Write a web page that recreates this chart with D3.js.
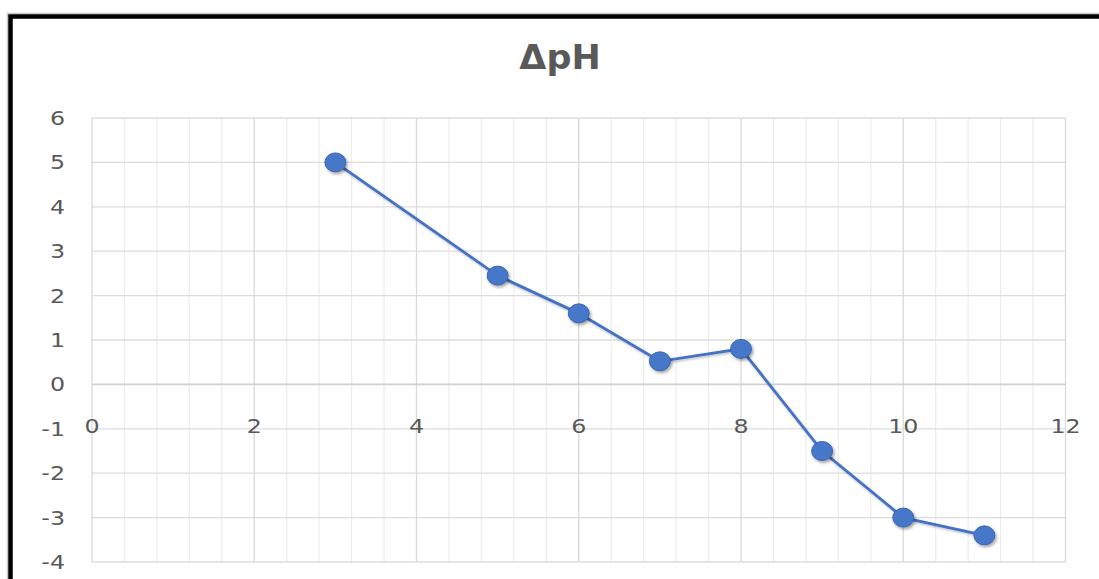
<!DOCTYPE html>
<html>
<head>
<meta charset="utf-8">
<script src="https://cdn.jsdelivr.net/npm/d3@7"></script>
<style>
  html, body { margin: 0; padding: 0; background: #ffffff; }
  svg { display: block; }
</style>
</head>
<body>
<script>
// Series: ΔpH against x
const xValues = [3, 5, 6, 7, 8, 9, 10, 11];
const deltaPH = [5, 2.45, 1.6, 0.52, 0.8, -1.5, -3, -3.4];
const xTicks = [0, 2, 4, 6, 8, 10, 12];
const yTicks = [-4, -3, -2, -1, 0, 1, 2, 3, 4, 5, 6];
const chartTitle = "ΔpH";

const W = 1099, H = 579;
const plot = { left: 92, right: 1065.5, top: 118, bottom: 562 };

const svg = d3.select("body").append("svg")
  .attr("width", W).attr("height", H);

const defs = svg.append("defs");
const shadow = defs.append("filter").attr("id", "markerShadow")
  .attr("x", "-50%").attr("y", "-50%").attr("width", "200%").attr("height", "200%");
shadow.append("feDropShadow")
  .attr("dx", 1.5).attr("dy", 2).attr("stdDeviation", 1.8)
  .attr("flood-color", "#000").attr("flood-opacity", 0.35);
const lineShadow = defs.append("filter").attr("id", "lineShadow")
  .attr("x", "-10%").attr("y", "-10%").attr("width", "120%").attr("height", "120%");
lineShadow.append("feDropShadow")
  .attr("dx", 1).attr("dy", 1.5).attr("stdDeviation", 1.2)
  .attr("flood-color", "#000").attr("flood-opacity", 0.25);

svg.append("rect").attr("width", W).attr("height", H).attr("fill", "#fff");

// Outer frame (thin grey edge then heavy black rule)
svg.append("path")
  .attr("d", `M7.5,${H} V13.5 H${W}`)
  .attr("fill", "none").attr("stroke", "#c8c8c8").attr("stroke-width", 1.5);
svg.append("path")
  .attr("d", `M10.5,${H} V16.5 H${W}`)
  .attr("fill", "none").attr("stroke", "#000").attr("stroke-width", 4.5);

const x = d3.scaleLinear().domain([0, 12]).range([plot.left, plot.right]);
const y = d3.scaleLinear().domain([-4, 6]).range([plot.bottom, plot.top]);

const grid = svg.append("g");
// minor vertical gridlines every 0.4
const minorX = d3.range(0, 12.0001, 0.4).map(v => +v.toFixed(1)).filter(v => Math.abs(v / 2 - Math.round(v / 2)) > 1e-6);
grid.selectAll("line.minor").data(minorX).join("line")
  .attr("class", "minor")
  .attr("x1", d => x(d)).attr("x2", d => x(d))
  .attr("y1", plot.top).attr("y2", plot.bottom)
  .attr("stroke", "#ececec").attr("stroke-width", 1.2);
// major vertical gridlines
grid.selectAll("line.majorx").data(xTicks).join("line")
  .attr("class", "majorx")
  .attr("x1", d => x(d)).attr("x2", d => x(d))
  .attr("y1", plot.top).attr("y2", plot.bottom)
  .attr("stroke", "#d9d9d9").attr("stroke-width", 1.3);
// horizontal gridlines
grid.selectAll("line.majory").data(yTicks).join("line")
  .attr("class", "majory")
  .attr("x1", plot.left).attr("x2", plot.right)
  .attr("y1", d => y(d)).attr("y2", d => y(d))
  .attr("stroke", d => d === 0 ? "#d0d0d0" : "#dcdcdc").attr("stroke-width", d => d === 0 ? 1.8 : 1.3);

const labelFont = "DejaVu Sans";
const labelColor = "#595959";

// y tick labels
svg.append("g").selectAll("text").data(yTicks).join("text")
  .attr("transform", d => `translate(65,${y(d) + 7}) scale(1.25,1)`)
  .attr("text-anchor", "end")
  .attr("font-family", labelFont).attr("font-size", 19)
  .attr("fill", labelColor)
  .text(d => d);

// x tick labels sit on the zero axis, just below it
svg.append("g").selectAll("text").data(xTicks).join("text")
  .attr("transform", d => `translate(${x(d)},${y(0) + 48.5}) scale(1.25,1)`)
  .attr("text-anchor", "middle")
  .attr("font-family", labelFont).attr("font-size", 19)
  .attr("fill", labelColor)
  .text(d => d);

// title
svg.append("text")
  .attr("transform", `translate(560,69) scale(1.06,1)`)
  .attr("text-anchor", "middle")
  .attr("font-family", labelFont).attr("font-weight", "bold").attr("font-size", 33)
  .attr("fill", labelColor)
  .text(chartTitle);

const points = xValues.map((v, i) => ({ x: v, y: deltaPH[i] }));

svg.append("path")
  .datum(points)
  .attr("d", d3.line().x(d => x(d.x)).y(d => y(d.y)))
  .attr("fill", "none")
  .attr("stroke", "#4472c4").attr("stroke-width", 2.8)
  .attr("filter", "url(#lineShadow)");

svg.append("g").selectAll("ellipse").data(points).join("ellipse")
  .attr("cx", d => x(d.x)).attr("cy", d => y(d.y))
  .attr("rx", 10.5).attr("ry", 9.5)
  .attr("fill", "#4677c8")
  .attr("stroke", "#3b65b0").attr("stroke-width", 1)
  .attr("filter", "url(#markerShadow)");
</script>
</body>
</html>
